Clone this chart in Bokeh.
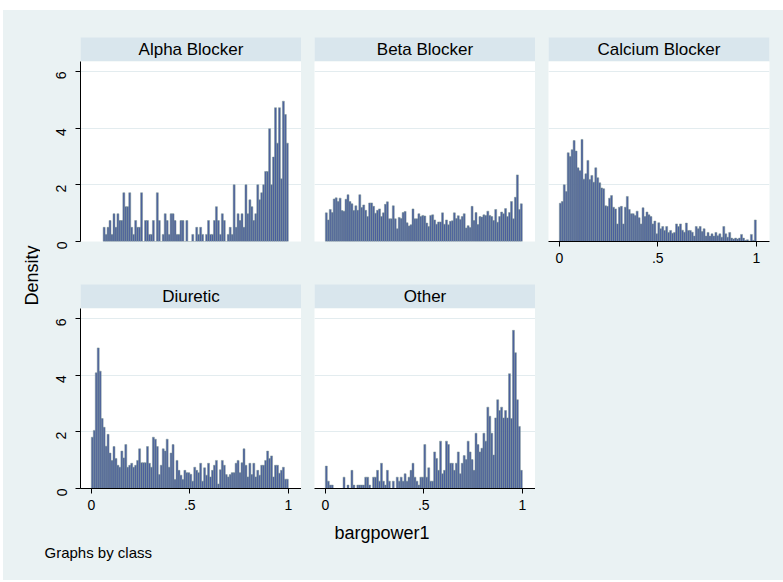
import math
import numpy as np
from bokeh.plotting import figure
from bokeh.models import Range1d, LinearAxis, FixedTicker, Grid, Label, ColumnDataSource, BoxAnnotation
from bokeh.layouts import row, column
from bokeh.embed import file_html
from bokeh.resources import INLINE

# ---------------- data ----------------
classes = ["Alpha Blocker", "Beta Blocker", "Calcium Blocker", "Diuretic", "Other"]
bin_width = 0.01

# first bin (index) at which each class's histogram starts
alpha_start_bin = 6
alpha = [0.5, 0.25, 0.5, 0.74, 0.25, 0.98, 0.5, 0.98, 0.74, 0.74,
         1.72, 1.23, 1.23, 1.72, 0.5, 0.25, 0.74, 0.5, 0.5, 1.72,
         0, 0.74, 0.74, 0.25, 0.25, 0.74, 0, 1.72, 0.74, 0,
         0.25, 0.98, 0.74, 0.25, 0.98, 0.98, 0.74, 0.25, 0.25, 0.74,
         0.74, 0, 0.74, 0, 0, 0.25, 0, 0.5, 0.25, 0.5,
         0.25, 0, 0.25, 0.74, 0.25, 0.25, 0.74, 1.23, 0.74, 0.25,
         0.98, 0.74, 0, 0.25, 0.5, 0.25, 2.0, 0.5, 0.98, 0.74,
         0.98, 0.5, 2.0, 0.98, 1.47, 1.23, 0.74, 0.98, 2.0, 1.47,
         1.72, 2.0, 2.47, 2.47, 3.98, 2.0, 2.98, 4.72, 3.47, 4.72,
         2.21, 4.95, 4.48, 3.47]

beta = [1.01, 0.76, 1.13, 1.02, 1.5, 1.54, 1.41, 1.53, 1.09, 1.07,
        1.49, 1.65, 1.41, 1.33, 1.09, 1.26, 1.1, 1.65, 1.2, 1.29,
        1.1, 0.88, 1.36, 1.36, 1.24, 1.0, 1.1, 1.15, 0.88, 1.01,
        1.31, 1.4, 0.8, 0.8, 1.26, 0.8, 0.45, 0.85, 0.81, 1.02,
        1.06, 0.66, 0.55, 0.59, 1.15, 0.8, 0.8, 0.98, 0.88, 0.92, 0.9,
        0.65, 0.53, 0.92, 0.94, 0.76, 0.61, 0.69, 0.69, 1.01, 0.61,
        0.76, 0.59, 0.71, 0.73, 1.01, 0.81, 0.91, 0.78, 0.88, 0.98,
        0.48, 0.56, 0.49, 1.24, 0.74, 1.02, 0.6, 0.88, 0.86, 0.94,
        0.92, 1.07, 0.92, 0.88, 0.74, 1.13, 0.68, 0.88, 1.04, 0.98,
        1.16, 0.88, 1.02, 1.41, 0.8, 1.56, 2.35, 1.13, 1.33]

calcium = [1.35, 1.41, 2.0, 1.76, 3.13, 3.0, 3.24, 3.56, 3.19, 2.6,
           2.5, 3.6, 2.2, 2.39, 2.86, 2.19, 2.33, 2.09, 2.6, 2.25,
           2.07, 1.89, 1.86, 1.26, 1.24, 1.53, 1.62, 1.21, 1.15, 0.62,
           1.21, 1.24, 0.62, 1.21, 1.59, 1.13, 0.98, 0.98, 0.92, 1.07,
           0.84, 0.62, 1.19, 0.88, 1.04, 0.94, 0.88, 0.62, 0.72, 0.27,
           0.66, 0.45, 0.53, 0.39, 0.53, 0.32, 0.39, 0.29, 0.32, 0.62,
           0.53, 0.62, 0.4, 0.33, 0.65, 0.39, 0.39, 0.33, 0.19, 0.53,
           0.45, 0.53, 0.35, 0.45, 0.19, 0.32, 0.19, 0.27, 0.19, 0.32, 0.2,
           0.27, 0.15, 0.53, 0.27, 0.15, 0.32, 0.12, 0.09, 0.12, 0.09,
           0.12, 0.25, 0.12, 0.04, 0.06, 0.02, 0.25, 0.04, 0.76]

diuretic = [1.81, 2.05, 4.08, 4.96, 4.14, 2.47, 2.16, 1.49, 1.91, 1.25,
            0.99, 1.48, 1.06, 0.82, 0.75, 1.32, 1.08, 1.55, 0.75, 0.82,
            0.89, 0.75, 0.82, 0.99, 1.4, 0.91, 0.91, 0.91, 1.48, 0.89,
            0.75, 1.81, 1.74, 1.48, 0.49, 0.82, 1.4, 1.32, 1.74, 0.75,
            1.25, 1.55, 0.32, 0.99, 0.64, 0.47, 0.32, 0.64, 0.56, 0.56, 0.5,
            0.26, 0.75, 0.64, 0.56, 0.89, 0.26, 0.73, 0.47, 0.89, 0.41,
            0.64, 0.82, 0.99, 0.16, 0.66, 0.99, 0.82, 0.49, 0.41, 0.49,
            0.56, 0.56, 0.89, 0.99, 0.56, 0.91, 1.4, 0.82, 0.41, 0.89,
            0.49, 0.89, 0.41, 0.64, 0.47, 0.82, 0.82, 0.99, 1.32, 1.06,
            1.15, 0.41, 0.82, 0.82, 0.54, 0.64, 0.75, 0.33, 0.33]

other = [0.79, 0.26, 0.12, 0.12, 0, 0, 0, 0, 0, 0.4,
         0, 0.12, 0, 0.64, 0.12, 0, 0.12, 0.12, 0.12, 0.12,
         0.4, 0.4, 0.12, 0, 0.4, 0.4, 0.64, 0.26, 0.89, 0.26, 0.12,
         0.64, 0.26, 0, 0.26, 0, 0.4, 0.26, 0.4, 0.26, 0.52,
         0.26, 0.4, 0.64, 0.89, 0.4, 0.26, 0.12, 0.4, 0.4, 1.55,
         0.4, 0.73, 0.26, 0.26, 1.29, 1.06, 0.64, 1.67, 0.52, 0.64,
         1.67, 1.55, 0.89, 0.89, 0.64, 0.89, 1.29, 0.52, 0.89, 1.16,
         1.02, 1.67, 1.29, 1.02, 0.64, 1.95, 1.55, 1.29, 1.42, 1.95,
         1.67, 2.87, 2.55, 1.95, 1.18, 2.49, 3.13, 2.75, 2.87, 2.49,
         2.75, 2.49, 4.05, 2.47, 5.58, 4.79, 3.13, 2.19, 0.64]

x_ticks = [0, 0.5, 1]
x_tick_labels = ["0", ".5", "1"]
y_ticks = [0, 2, 4, 6]
x_label = "bargpower1"
y_label = "Density"
note = "Graphs by class"

# ---------------- style ----------------
BG = "#eaf2f3"
STRIP = "#d9e6ed"
FILL = "#4b5f9e"
EDGE = "#7d9590"
GRID = "#e3ecef"
FONT = "Liberation Sans"
FW, FH = 221, 180
STRIP_H = 24


def header(text, left, right, top):
    # frame covers the space above the strip as well, strip drawn as a box
    h = figure(frame_width=FW, frame_height=top + STRIP_H,
               x_range=Range1d(0, 1), y_range=Range1d(0, top + STRIP_H),
               toolbar_location=None, output_backend="svg",
               x_axis_location=None, y_axis_location=None,
               min_border_left=left, min_border_right=right, min_border_top=0, min_border_bottom=0,
               background_fill_color=BG, border_fill_color=BG, outline_line_color=None)
    h.xgrid.visible = False
    h.ygrid.visible = False
    h.add_layout(BoxAnnotation(bottom=0, top=STRIP_H, fill_color=STRIP, fill_alpha=1.0,
                               line_color=None, level="underlay"))
    h.add_layout(Label(x=0.5, y=STRIP_H / 2, text=text, text_align="center", text_baseline="middle",
                       text_font=FONT, text_font_size="17px", text_color="#000000"))
    return h


def style_axis(ax, standoff):
    ax.axis_line_color = "#000000"
    ax.axis_line_width = 1
    ax.major_tick_line_color = "#000000"
    ax.major_tick_out = 5
    ax.major_tick_in = 0
    ax.minor_tick_line_color = None
    ax.major_label_text_font = FONT
    ax.major_label_text_font_size = "14px"
    ax.major_label_text_color = "#000000"
    ax.major_label_standoff = standoff


def panel(vals, left, right, bottom, show_y, show_x, start_bin=0):
    p = figure(frame_width=FW, frame_height=FH, x_range=Range1d(-0.055, 1.067), y_range=Range1d(0, 6.35),
               toolbar_location=None, output_backend="svg",
               x_axis_location=None, y_axis_location=None,
               min_border_left=left, min_border_right=right, min_border_top=0, min_border_bottom=bottom,
               background_fill_color="#ffffff", border_fill_color=BG, outline_line_color=None)
    p.xgrid.visible = False
    p.ygrid.visible = False
    p.add_layout(Grid(dimension=1, ticker=FixedTicker(ticks=y_ticks), grid_line_color=GRID, grid_line_width=1))
    edges = (np.arange(len(vals)) + start_bin) * bin_width
    src = ColumnDataSource(dict(left=edges, right=edges + bin_width, top=vals))
    p.quad(left="left", right="right", bottom=0, top="top", source=src,
           fill_color=FILL, line_color=EDGE, line_width=0.5)
    if show_y:
        ax = LinearAxis(ticker=FixedTicker(ticks=y_ticks), major_label_orientation=math.pi / 2)
        style_axis(ax, 14)
        p.add_layout(ax, "left")
    if show_x:
        ax = LinearAxis(ticker=FixedTicker(ticks=x_ticks),
                        major_label_overrides={t: l for t, l in zip(x_ticks, x_tick_labels)})
        style_axis(ax, 6)
        p.add_layout(ax, "below")
    return p


def plain(w, h):
    f = figure(width=w, height=h, x_range=Range1d(0, w), y_range=Range1d(0, h),
               toolbar_location=None, output_backend="svg",
               x_axis_location=None, y_axis_location=None, min_border=0,
               background_fill_color=BG, border_fill_color=BG, outline_line_color=None)
    f.xgrid.visible = False
    f.ygrid.visible = False
    return f


# top row
h1 = header(classes[0], 40, 0, 27)
p1 = panel(alpha, 40, 0, 31, True, False, start_bin=alpha_start_bin)
h2 = header(classes[1], 13, 0, 27)
p2 = panel(beta, 13, 0, 31, False, False)
h3 = header(classes[2], 13, 14, 27)
p3 = panel(calcium, 13, 14, 31, False, True)

# bottom row
h4 = header(classes[3], 40, 0, 12)
p4 = panel(diuretic, 40, 0, 30, True, True)
h5 = header(classes[4], 13, 0, 12)
p5 = panel(other, 13, 0, 30, False, True)

blank = plain(248, 246)

# left strip with y label
ls = plain(37, 508)
ls.add_layout(Label(x=28, y=243, text=y_label, angle=math.pi / 2, text_align="center",
                    text_baseline="middle", text_font=FONT, text_font_size="18px", text_color="#000000"))

# bottom strip with x label and note
BS_H = 62
bs = plain(780, BS_H)
bs.add_layout(Label(x=378.5, y=BS_H - 14, text=x_label, text_align="center", text_baseline="middle",
                    text_font=FONT, text_font_size="18px", text_color="#000000"))
bs.add_layout(Label(x=41, y=BS_H - 34, text=note, text_align="left", text_baseline="middle",
                    text_font=FONT, text_font_size="15px", text_color="#000000"))

top_row = row(column(h1, p1, spacing=0), column(h2, p2, spacing=0), column(h3, p3, spacing=0), spacing=0)
bottom_row = row(column(h4, p4, spacing=0), column(h5, p5, spacing=0), blank, spacing=0)
root = column(row(ls, column(top_row, bottom_row, spacing=0), spacing=0), bs, spacing=0,
              styles={"background-color": BG}, margin=(10, 0, 0, 3))

open("out.html", "w").write(file_html(root, INLINE))
